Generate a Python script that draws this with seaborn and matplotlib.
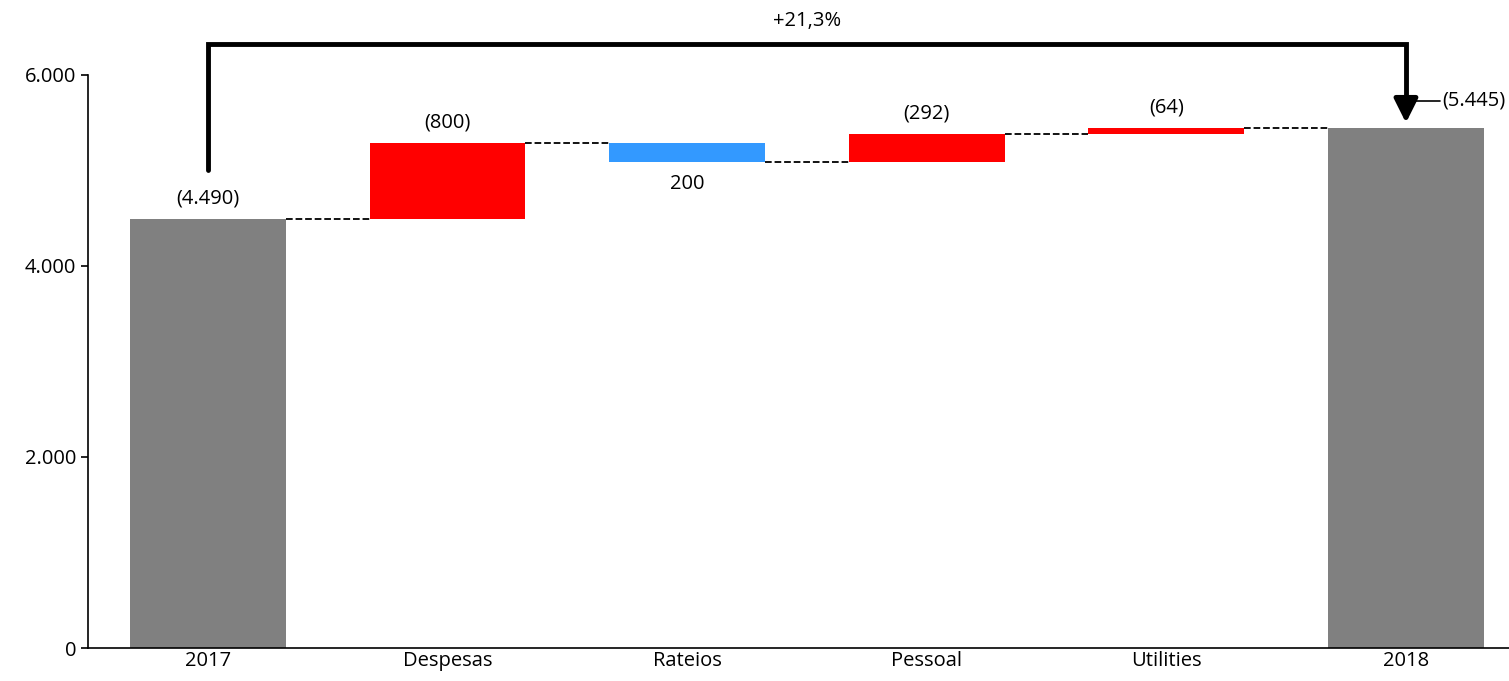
import matplotlib
matplotlib.use("Agg")
import matplotlib.pyplot as plt
import seaborn as sns
import numpy as np
import pandas as pd

categories = ["2017", "Despesas", "Rateios", "Pessoal", "Utilities", "2018"]
changes = [4490, 800, -200, 292, 64]
total_2018 = 5445
labels = ["(4.490)", "(800)", "200", "(292)", "(64)", "(5.445)"]
growth_label = "+21,3%"

sns.set_theme(style="white")
plt.rcParams["font.family"] = ["Open Sans", "DejaVu Sans"]
plt.rcParams["text.color"] = "black"
plt.rcParams["xtick.color"] = "black"
plt.rcParams["ytick.color"] = "black"

# floating bar geometry from the running total
levels = np.cumsum(changes)
bottoms = [0] + [min(levels[i - 1], levels[i]) for i in range(1, len(changes))] + [0]
heights = [changes[0]] + [abs(c) for c in changes[1:]] + [total_2018]
colors = ["#808080"] + ["#FF0000" if c > 0 else "#3399FF" for c in changes[1:]] + ["#808080"]
df = pd.DataFrame({"cat": categories, "h": heights})

fig = plt.figure(figsize=(15.09, 6.81), dpi=100)
ax = fig.add_axes([88 / 1509, 33 / 681, 1 - 88 / 1509, 1 - 33 / 681])
sns.barplot(data=df, x="cat", y="h", bottom=bottoms, width=0.65, ax=ax, color="#808080")
for p, c in zip(ax.patches, colors):
    p.set_facecolor(c)
    p.set_edgecolor("none")

ax.set_xlim(-0.5, 5.43)
ax.set_ylim(0, 6785)
ax.set_xlabel("")
ax.set_ylabel("")
ax.set_yticks([0, 2000, 4000, 6000])
ax.set_yticklabels(["0", "2.000", "4.000", "6.000"], fontsize=14.5)
ax.tick_params(axis="x", labelsize=14.5, length=0, pad=2)
ax.tick_params(axis="y", length=5, direction="out", left=True, width=1.2)
for s in ["top", "right"]:
    ax.spines[s].set_visible(False)
ax.spines["left"].set_bounds(0, 6000)
for s in ["left", "bottom"]:
    ax.spines[s].set_color("black")
    ax.spines[s].set_linewidth(1.2)

# dashed connectors
tops = [levels[0]] + list(levels[1:]) + [total_2018]
for i in range(len(categories) - 1):
    ax.plot([i + 0.325, i + 1 - 0.325], [tops[i], tops[i]], ls="--", color="black", lw=1.3)

# value labels
for i, lab in enumerate(labels[:-1]):
    top = bottoms[i] + heights[i]
    if i > 0 and changes[i] < 0:
        ax.text(i, bottoms[i] - 130, lab, ha="center", va="top", fontsize=14.5)
    else:
        ax.text(i, top + 110, lab, ha="center", va="bottom", fontsize=14.5)
ax.plot([5.0, 5.14], [5730, 5730], color="black", lw=1.2)
ax.text(5.15, 5730, labels[-1], ha="left", va="center", fontsize=14.5)

# growth arrow
ax.plot([0, 0, 5, 5], [5000, 6320, 6320, 5750], color="black", lw=3.5, solid_joinstyle="miter")
ax.annotate("", xy=(5, 5470), xytext=(5, 5800),
            arrowprops=dict(arrowstyle="-|>,head_width=0.6,head_length=1.2", color="black", lw=3.5))
ax.text(2.5, 6560, growth_label, ha="center", va="center", fontsize=14.5)

fig.savefig("out.png", dpi=100)
